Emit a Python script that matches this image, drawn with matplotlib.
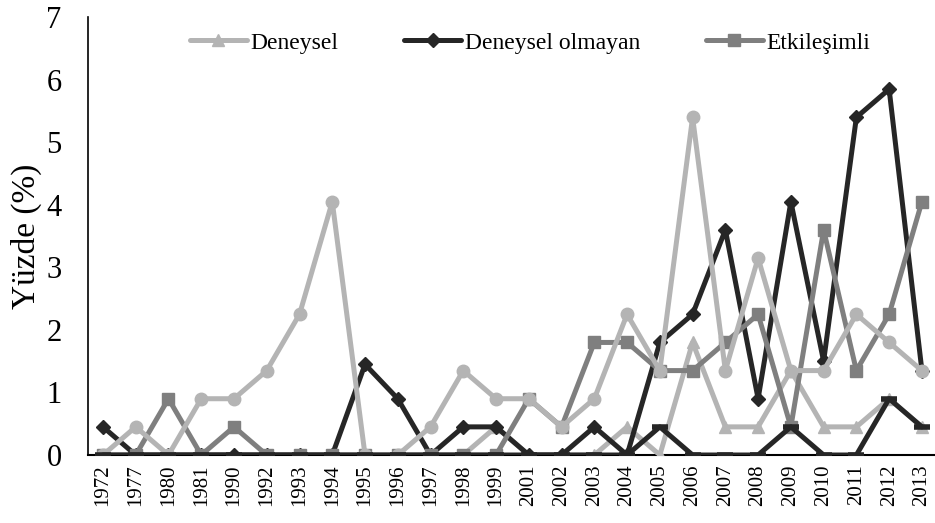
import numpy as np
import matplotlib
matplotlib.use("Agg")
import matplotlib.pyplot as plt

plt.rcParams['font.family'] = ['Liberation Serif', 'DejaVu Serif']

years = ['1972', '1977', '1980', '1981', '1990', '1992', '1993', '1994', '1995',
         '1996', '1997', '1998', '1999', '2001', '2002', '2003', '2004', '2005',
         '2006', '2007', '2008', '2009', '2010', '2011', '2012', '2013']

deneysel = [0, 0, 0, 0, 0, 0, 0, 0, 0, 0, 0, 0, 0.45, 0, 0, 0, 0.45, 0,
            1.8, 0.45, 0.45, 1.35, 0.45, 0.45, 0.9, 0.45]
deneysel_olmayan = [0.45, 0, 0, 0, 0, 0, 0, 0, 1.45, 0.9, 0, 0.45, 0.45, 0, 0, 0.45, 0, 1.8,
                    2.25, 3.6, 0.9, 4.05, 1.5, 5.4, 5.85, 1.35]
etkilesimli = [0, 0, 0.9, 0, 0.45, 0, 0, 0, 0, 0, 0, 0, 0, 0.9, 0.45, 1.8, 1.8, 1.35,
               1.35, 1.8, 2.25, 0.45, 3.6, 1.35, 2.25, 4.05]
# unlabelled series (no legend entry)
seri4 = [0, 0.45, 0, 0.9, 0.9, 1.35, 2.25, 4.05, 0, 0, 0.45, 1.35, 0.9, 0.9, 0.45, 0.9, 2.25, 1.35,
         5.4, 1.35, 3.15, 1.35, 1.35, 2.25, 1.8, 1.35]
seri5 = [0, 0, 0, 0, 0, 0, 0, 0, 0, 0, 0, 0, 0, 0, 0, 0, 0, 0.45,
         0, 0, 0, 0.45, 0, 0, 0.9, 0.45]

light = '#b4b4b4'
mid = '#7f7f7f'
dark = '#262626'

fig = plt.figure(figsize=(9.35, 5.23), dpi=100)
ax = fig.add_axes([0.094, 0.130, 0.906, 0.837])
x = np.arange(len(years))
lw = 3.6

l1, = ax.plot(x, deneysel, color=light, lw=lw, marker='^', ms=9, label='Deneysel',
              solid_joinstyle='round', solid_capstyle='round', zorder=3)
l2, = ax.plot(x, deneysel_olmayan, color=dark, lw=lw, marker='D', ms=7, label='Deneysel olmayan',
              solid_joinstyle='round', solid_capstyle='round', zorder=4)
l3, = ax.plot(x, etkilesimli, color=mid, lw=lw, marker='s', ms=9, label='Etkileşimli',
              solid_joinstyle='round', solid_capstyle='round', zorder=5)
ax.plot(x, seri4, color=light, lw=lw, marker='o', ms=9,
        solid_joinstyle='round', solid_capstyle='round', zorder=6)
ax.plot(x, seri5, color=dark, lw=lw, marker='_', ms=11, mew=4,
        solid_joinstyle='round', solid_capstyle='round', zorder=7)

ax.set_xlim(-0.46, 25.4)
ax.set_ylim(0, 7)
ax.set_xticks(x)
ax.set_xticklabels(years, rotation=90, fontsize=15)
ax.set_yticks(range(8))
ax.tick_params(axis='y', length=0, labelsize=22, pad=19)
ax.tick_params(axis='x', length=0, pad=7)
ax.set_ylabel('Yüzde (%)', fontsize=24, labelpad=3)

for s in ['top', 'right']:
    ax.spines[s].set_visible(False)
ax.spines['left'].set_linewidth(1.2)
ax.spines['bottom'].set_linewidth(1.5)
ax.spines['bottom'].set_zorder(1)

fig.legend(handles=[l1, l2, l3], loc='center', bbox_to_anchor=(0.567, 0.918), ncol=3,
           frameon=False, fontsize=17, handlelength=2.4, handletextpad=0.15,
           columnspacing=2.8)

fig.savefig('out.png', dpi=100)
